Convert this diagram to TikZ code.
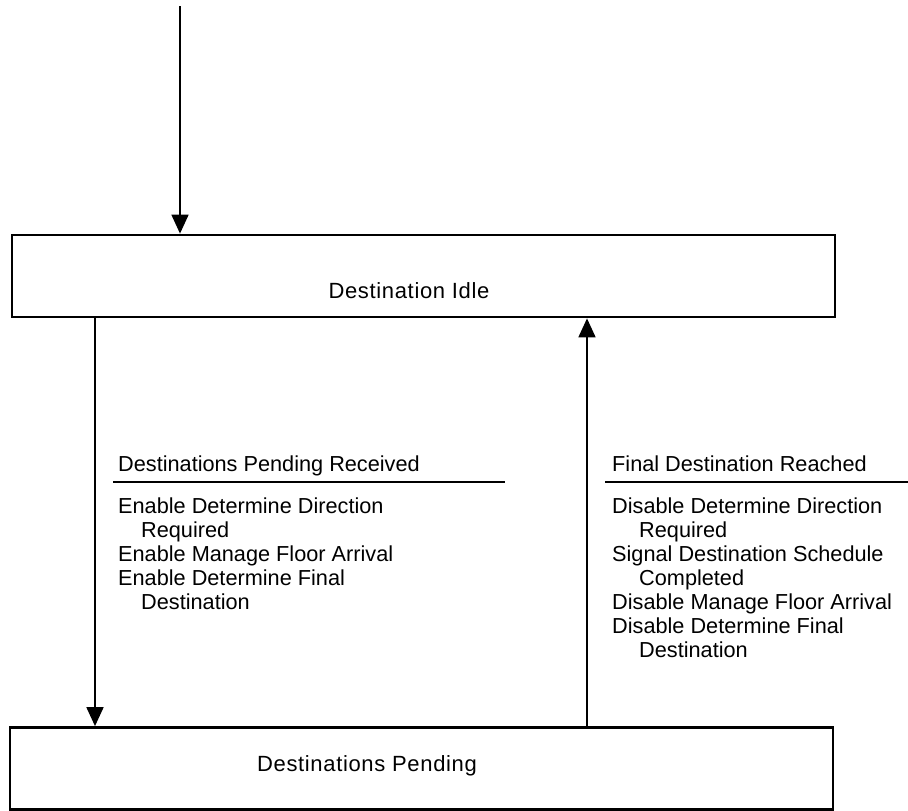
\documentclass[tikz,border=0pt]{standalone}
\usepackage{fontspec}
\setmainfont{Liberation Sans}
\newfontfamily\boxfont[LetterSpace=3]{Liberation Sans}
\usetikzlibrary{arrows.meta}
\tikzset{
  statebox/.style={draw, line width=2.8pt, minimum width=823pt, minimum height=82pt, inner sep=0pt},
  boxtext/.style={inner sep=0pt, anchor=base, font=\boxfont\fontsize{22}{24}\selectfont},
  lbl/.style={inner sep=0pt, anchor=base west, font=\fontsize{21.7}{24}\selectfont},
  trans/.style={line width=1.8pt, -{Triangle[length=19pt,width=17pt]}},
  rule/.style={line width=2.6pt}
}
\begin{document}
\begin{tikzpicture}[x=1pt,y=-1pt]
\useasboundingbox (0,0) rectangle (908,811);
% state boxes
\node[statebox] (idle) at (423.5,276) {};
\node[boxtext] (idletxt) at (409,298) {Destination Idle};
\node[statebox] (pend) at (421.5,768.5) {};
\node[boxtext] (pendtxt) at (367,771) {Destinations Pending};
% initial arrow
\coordinate (start) at (180,6);
\draw[trans] (start) -- (start |- idle.north);
% transitions
\coordinate (lx) at (95,0);
\coordinate (rx) at (587,0);
\draw[trans] (lx |- idle.south) -- (lx |- pend.north);
\draw[trans] (rx |- pend.north) -- (rx |- idle.south);
% left label
\node[lbl] (lt) at (118,471) {Destinations Pending Received};
\draw[rule] (113,482) -- (505,482);
\node[lbl] (l1) at (118,513) {Enable Determine Direction};
\node[lbl] (l2) at (141,537) {Required};
\node[lbl] (l3) at (118,561) {Enable Manage Floor Arrival};
\node[lbl] (l4) at (118,585) {Enable Determine Final};
\node[lbl] (l5) at (141,609) {Destination};
% right label
\node[lbl] (rt) at (612,471) {Final Destination Reached};
\draw[rule] (605,482) -- (908,482);
\node[lbl] (r1) at (612,513) {Disable Determine Direction};
\node[lbl] (r2) at (639,537) {Required};
\node[lbl] (r3) at (612,561) {Signal Destination Schedule};
\node[lbl] (r4) at (639,585) {Completed};
\node[lbl] (r5) at (612,609) {Disable Manage Floor Arrival};
\node[lbl] (r6) at (612,633) {Disable Determine Final};
\node[lbl] (r7) at (639,657) {Destination};
\end{tikzpicture}
\end{document}
